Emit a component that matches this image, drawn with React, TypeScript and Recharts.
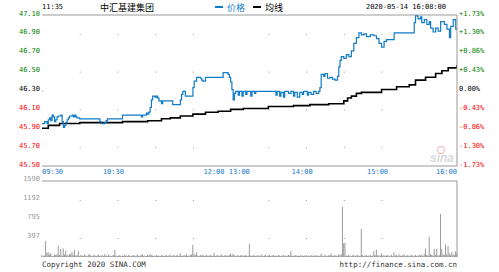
import { ComposedChart, Line, Bar, XAxis, YAxis, ReferenceLine, ReferenceDot } from 'recharts'

const MONO = '"DejaVu Sans Mono", monospace'
const CJK = '"Noto Sans CJK SC", sans-serif'

const PRE_CLOSE = 46.3
const priceTicks = [45.5, 45.7, 45.9, 46.1, 46.3, 46.5, 46.7, 46.9, 47.1]
const volumeTicks = [397.5, 795, 1192.5, 1590]
const timeTicks = [0, 60, 150, 210, 270, 330]
const timeLabels = ['09:30', '10:30', '12:00 13:00', '14:00', '15:00', '16:00']
const gridMinutes = [30, 60, 90, 120, 180, 210, 240, 270]
const gridPrices = [46.9, 46.5, 46.1, 45.7]
const gridVolumes = [397.5, 1192.5]

// minute index (09:30 = 0, 12:00/13:00 = 150, 16:00 = 330) and price where it changes
const priceSteps: [number, number][] = [
    [0, 45.95], [2, 45.97], [4, 45.95], [5, 45.99], [6, 46.01], [7, 45.98], [8, 46.04], [9, 46.02],
    [10, 45.97], [11, 45.99], [12, 46.02], [13, 46.03], [15, 46.04], [16, 45.97], [17, 45.91], [18, 45.93],
    [19, 45.96], [20, 45.99], [21, 46.01], [22, 46.03], [24, 46.04], [25, 46.02], [26, 46.04], [27, 46.02],
    [28, 46.01], [30, 46.0], [46, 45.97], [47, 45.95], [50, 45.96], [51, 45.98], [52, 46.0], [64, 46.04],
    [79, 46.02], [80, 46.04], [83, 46.06], [84, 46.05], [85, 46.07], [86, 46.12], [87, 46.2], [88, 46.24],
    [90, 46.23], [91, 46.24], [92, 46.22], [93, 46.19], [95, 46.16], [96, 46.19], [104, 46.15], [110, 46.2],
    [111, 46.26], [112, 46.29], [114, 46.24], [120, 46.33], [121, 46.4], [123, 46.44], [126, 46.43], [127, 46.41],
    [128, 46.4], [130, 46.44], [144, 46.49], [148, 46.47], [149, 46.44], [150, 46.39], [151, 46.31], [152, 46.2],
    [153, 46.27], [154, 46.29], [156, 46.25], [157, 46.29], [159, 46.24], [160, 46.29], [162, 46.26], [163, 46.29],
    [166, 46.24], [167, 46.29], [169, 46.27], [170, 46.29], [186, 46.25], [187, 46.29], [189, 46.24], [190, 46.28],
    [192, 46.23], [193, 46.29], [196, 46.27], [198, 46.29], [200, 46.24], [201, 46.28], [203, 46.23], [205, 46.28],
    [207, 46.26], [208, 46.29], [211, 46.25], [212, 46.28], [214, 46.26], [216, 46.29], [218, 46.27], [220, 46.29],
    [221, 46.33], [222, 46.47], [224, 46.45], [225, 46.48], [227, 46.43], [229, 46.44], [231, 46.42], [233, 46.41],
    [235, 46.45], [236, 46.55], [237, 46.62], [238, 46.66], [240, 46.64], [242, 46.68], [244, 46.66], [246, 46.72],
    [248, 46.8], [250, 46.86], [252, 46.91], [254, 46.89], [256, 46.9], [258, 46.87], [261, 46.89], [264, 46.88],
    [266, 46.85], [268, 46.8], [270, 46.76], [272, 46.82], [274, 46.84], [280, 46.91], [296, 47.02], [297, 47.09],
    [299, 47.06], [301, 47.08], [302, 47.02], [304, 47.05], [306, 47.0], [308, 47.03], [309, 46.96], [311, 46.92],
    [313, 46.96], [315, 46.93], [317, 47.03], [320, 47.0], [322, 46.95], [324, 46.86], [325, 46.98], [327, 47.05],
    [329, 46.95], [330, 46.96],
]

const avgSteps: [number, number][] = [
    [0, 45.9], [5, 45.93], [14, 45.95], [30, 45.96], [64, 45.97], [84, 45.98], [95, 46.0], [102, 46.01],
    [110, 46.03], [120, 46.05], [130, 46.07], [140, 46.08], [150, 46.1], [160, 46.11], [180, 46.13], [200, 46.14],
    [213, 46.15], [228, 46.16], [240, 46.19], [243, 46.22], [246, 46.24], [250, 46.27], [254, 46.28], [270, 46.31],
    [282, 46.34], [292, 46.36], [297, 46.41], [305, 46.44], [313, 46.48], [318, 46.51], [323, 46.54], [330, 46.57],
]

// volume per minute, 09:30 .. 16:00
const volume: number[] = [
    40, 20, 30, 335, 90, 100, 60, 80, 30, 20, 50, 40, 60, 236, 40, 170, 30, 180, 50, 130, 40, 30, 60, 70, 110, 40, 150, 30, 40, 125,
    20, 40, 30, 20, 50, 30, 20, 40, 60, 30, 20, 30, 40, 20, 30, 50, 20, 30, 40, 20, 60, 30, 20, 40, 30, 20, 30, 40, 145, 30,
    20, 30, 40, 20, 30, 20, 50, 30, 20, 40, 30, 20, 30, 40, 20, 30, 50, 20, 30, 40, 60, 20, 30, 20, 40, 30, 60, 40, 30, 20,
    30, 40, 20, 30, 20, 40, 30, 20, 30, 40, 20, 30, 50, 20, 30, 40, 20, 30, 40, 20, 80, 30, 20, 40, 30, 60, 20, 30, 40, 50,
    250, 60, 40, 100, 30, 20, 40, 30, 50, 20, 30, 40, 20, 30, 40, 20, 30, 90, 20, 30, 40, 20, 30, 50, 20, 30, 40, 20, 30, 40,
    70, 30, 70, 40, 20, 30, 40, 20, 30, 40, 20, 30, 40, 20, 30, 270, 30, 20, 40, 30, 20, 30, 40, 20, 30, 50, 20, 30, 40, 20,
    30, 40, 20, 30, 40, 20, 30, 20, 40, 30, 20, 30, 40, 20, 30, 20, 40, 30, 125, 30, 20, 30, 40, 20, 30, 20, 40, 30, 20, 30,
    40, 20, 30, 20, 40, 30, 20, 30, 40, 20, 30, 20, 70, 30, 20, 40, 30, 20, 30, 40, 75, 30, 20, 40, 30, 20, 60, 40, 60, 1052,
    290, 300, 30, 20, 40, 30, 20, 30, 40, 20, 30, 40, 20, 30, 585, 40, 20, 30, 40, 20, 30, 40, 20, 30, 120, 40, 150, 30, 40, 20,
    80, 30, 40, 20, 30, 40, 20, 30, 40, 20, 100, 30, 40, 20, 60, 30, 20, 40, 60, 20, 30, 40, 20, 30, 40, 20, 30, 40, 20, 30,
    40, 30, 50, 20, 60, 180, 40, 30, 425, 60, 40, 30, 170, 40, 170, 30, 40, 900, 170, 60, 40, 260, 60, 230, 80, 40, 100, 60, 40, 120, 80,
]

const priceData = priceSteps.map(([t, p]) => ({ t, p }))
const avgData = avgSteps.map(([t, a]) => ({ t, a }))
const volumeData = volume.map((v, t) => ({ t, v }))

const priceColor = (v: number) => (v > PRE_CLOSE + 0.001 ? '#008000' : v < PRE_CLOSE - 0.001 ? '#ff0000' : '#000')

const pctLabel = (v: number) => {
    const pct = ((v - PRE_CLOSE) / PRE_CLOSE) * 100
    if (Math.abs(pct) < 0.001) return '0.00%'
    return `${pct > 0 ? '+' : ''}${pct.toFixed(2)}%`
}

const LeftPriceTick = ({ y, payload }: any) => (
    <text x={40} y={y - 1.5} textAnchor="end" dominantBaseline="central" fontSize={7} fontFamily={MONO} fill={priceColor(payload.value)}>
        {payload.value.toFixed(2)}
    </text>
)

const RightPriceTick = ({ y, payload }: any) => (
    <text x={459} y={y - 1.5} textAnchor="start" dominantBaseline="central" fontSize={7} fontFamily={MONO} fill={priceColor(payload.value)}>
        {pctLabel(payload.value)}
    </text>
)

const TimeTick = ({ x, payload }: any) => {
    const i = timeTicks.indexOf(payload.value)
    const anchor = i === 0 ? 'start' : i === timeTicks.length - 1 ? 'end' : 'middle'
    return (
        <text x={anchor === 'middle' ? x - 4 : x} y={172} textAnchor={anchor} dominantBaseline="central" fontSize={7} fontFamily={MONO} fill="#1a7bc9">
            {timeLabels[i]}
        </text>
    )
}

const VolumeTick = ({ y, payload }: any) => (
    <text x={40} y={y - 2} textAnchor="end" dominantBaseline="central" fontSize={7} fontFamily={MONO} fill="#999">
        {Math.floor(payload.value)}
    </text>
)

const dotShape = (props: any) => <rect x={props.cx} y={props.cy} width={1} height={1} fill="#999" />

export default function App() {
    return (
        <div style={{ position: 'absolute', left: 0, top: 0, width: 499, height: 272, background: '#fff', overflow: 'hidden' }}>
            <div style={{ position: 'absolute', left: 0, top: 0 }}>
                <ComposedChart width={499} height={181} margin={{ top: 15, right: 0, bottom: 0, left: 0 }}>
                    <XAxis
                        type="number"
                        dataKey="t"
                        domain={[0, 330]}
                        ticks={timeTicks}
                        interval={0}
                        height={15}
                        tick={<TimeTick />}
                        tickLine={false}
                        axisLine={{ stroke: '#999' }}
                        allowDataOverflow
                    />
                    <YAxis yAxisId="left" orientation="left" width={42} domain={[45.5, 47.1]} ticks={priceTicks} interval={0} tick={<LeftPriceTick />} tickLine={false} axisLine={false} allowDataOverflow />
                    <YAxis yAxisId="right" orientation="right" width={42} domain={[45.5, 47.1]} ticks={priceTicks} interval={0} tick={<RightPriceTick />} tickLine={false} axisLine={{ stroke: '#999' }} allowDataOverflow />
                    <ReferenceLine yAxisId="left" y={47.1} stroke="#999" />
                    {gridPrices.map((p) =>
                        gridMinutes.map((m) => <ReferenceDot key={`${p}-${m}`} yAxisId="left" x={m} y={p} shape={dotShape} />)
                    )}
                    <ReferenceDot yAxisId="left" x={0} y={46.3} shape={dotShape} />
                    <Line yAxisId="left" data={avgData} dataKey="a" type="stepAfter" stroke="#000" strokeWidth={1.6} dot={false} activeDot={false} isAnimationActive={false} />
                    <Line yAxisId="left" data={priceData} dataKey="p" type="stepAfter" stroke="#0f7bc9" strokeWidth={1.2} dot={false} activeDot={false} isAnimationActive={false} />
                </ComposedChart>
            </div>
            <div style={{ position: 'absolute', left: 0, top: 171 }}>
                <ComposedChart width={499} height={86} data={volumeData} margin={{ top: 10, right: 42, bottom: 0, left: 0 }}>
                    <XAxis type="number" dataKey="t" domain={[0, 330]} hide />
                    <YAxis width={42} domain={[0, 1590]} ticks={volumeTicks} interval={0} tick={<VolumeTick />} tickLine={false} axisLine={false} allowDataOverflow />
                    <ReferenceLine y={1590} stroke="#999" />
                    <ReferenceLine y={0} stroke="#999" />
                    <ReferenceLine x={330} stroke="#999" />
                    {gridVolumes.map((v) => gridMinutes.map((m) => <ReferenceDot key={`${v}-${m}`} x={m} y={v} shape={dotShape} />))}
                    <Bar dataKey="v" fill="#999" barSize={1} isAnimationActive={false} />
                </ComposedChart>
            </div>
            <svg width={499} height={272} style={{ position: 'absolute', left: 0, top: 0, pointerEvents: 'none' }}>
                <text x={42} y={7} dominantBaseline="central" fontSize={7} fontFamily={MONO} fill="#000">11:35</text>
                <text x={100} y={7} dominantBaseline="central" fontSize={9} fontFamily={CJK} fill="#000">中汇基建集团</text>
                <rect x={215} y={6} width={8} height={2} fill="#0f7bc9" />
                <text x={227} y={7} dominantBaseline="central" fontSize={9} fontFamily={CJK} fill="#0f7bc9">价格</text>
                <rect x={253} y={6} width={8} height={2} fill="#000" />
                <text x={265} y={7} dominantBaseline="central" fontSize={9} fontFamily={CJK} fill="#000">均线</text>
                <text x={446} y={7} textAnchor="end" dominantBaseline="central" fontSize={7} fontFamily={MONO} fill="#000">2020-05-14 16:08:00</text>
                <circle cx={441} cy={150} r={3.5} fill="none" stroke="#f0c8c8" strokeWidth={1.5} />
                <text x={454} y={162} textAnchor="end" fontSize={12} fontStyle="italic" fontWeight="bold" fontFamily="Arial, sans-serif" fill="#d8d8d8">sina</text>
                <text x={42} y={264} dominantBaseline="central" fontSize={7.5} fontFamily={MONO} fill="#333">Copyright 2020 SINA.COM</text>
                <text x={457} y={264} textAnchor="end" dominantBaseline="central" fontSize={7.5} fontFamily={MONO} fill="#333">http://finance.sina.com.cn</text>
            </svg>
        </div>
    )
}
